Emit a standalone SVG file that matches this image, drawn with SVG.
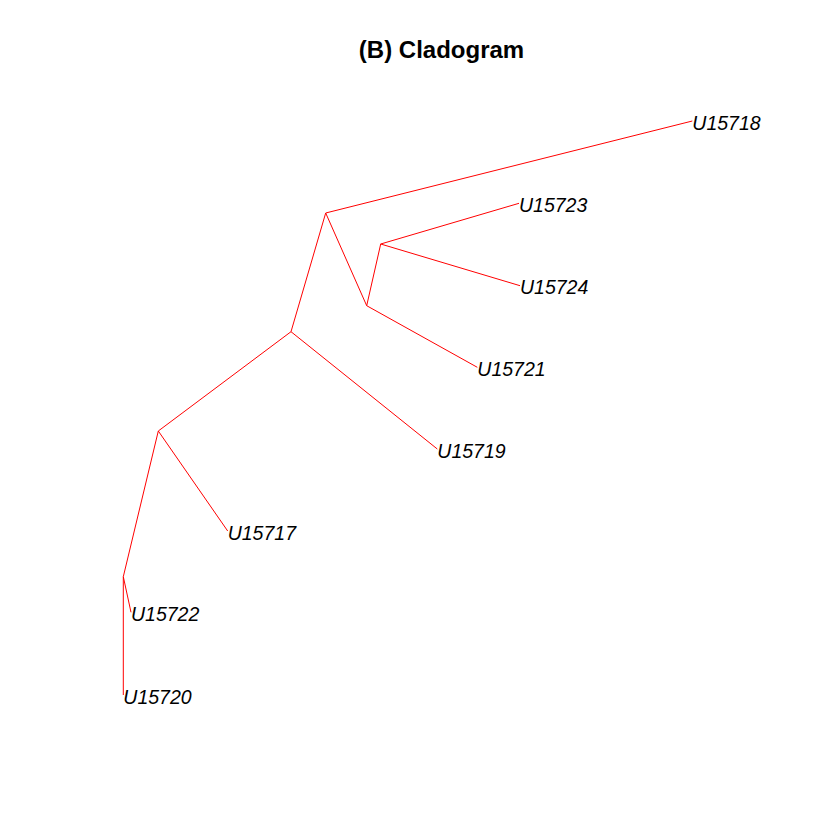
<svg xmlns="http://www.w3.org/2000/svg" width="840" height="840" viewBox="0 0 840 840">
<style>
.e{stroke:#ff0000;stroke-width:1;fill:none}
.l{font-family:"Liberation Sans",Arial,sans-serif;font-size:19.5px;font-style:italic;fill:#000}
.t{font-family:"Liberation Sans",Arial,sans-serif;font-size:24px;font-weight:bold;fill:#000}
</style>
<rect width="840" height="840" fill="#fff"/>
<text class="t" x="441.5" y="58" text-anchor="middle">(B) Cladogram</text>
<g id="connectors">
<line class="e" x1="291" y1="331.7" x2="158.3" y2="431"/>
<line class="e" x1="291" y1="331.7" x2="437.3" y2="449"/>
<line class="e" x1="291" y1="331.7" x2="325.7" y2="213"/>
<line class="e" x1="325.7" y1="213" x2="692.3" y2="121"/>
<line class="e" x1="325.7" y1="213" x2="366.7" y2="305.7"/>
<line class="e" x1="366.7" y1="305.7" x2="477.3" y2="367.3"/>
<line class="e" x1="366.7" y1="305.7" x2="380.7" y2="244"/>
<line class="e" x1="380.7" y1="244" x2="519" y2="203.3"/>
<line class="e" x1="380.7" y1="244" x2="520" y2="285.7"/>
<line class="e" x1="158.3" y1="431" x2="227.7" y2="531"/>
<line class="e" x1="158.3" y1="431" x2="123.3" y2="576.7"/>
<line class="e" x1="123.3" y1="576.7" x2="131" y2="612.3"/>
<line class="e" x1="123.3" y1="576.7" x2="123.3" y2="695"/>
</g>
<g id="U15718"><text class="l" x="692.3" y="129.5">U15718</text></g>
<g id="U15723"><text class="l" x="519" y="211.8">U15723</text></g>
<g id="U15724"><text class="l" x="520" y="294.2">U15724</text></g>
<g id="U15721"><text class="l" x="477.3" y="375.8">U15721</text></g>
<g id="U15719"><text class="l" x="437.3" y="457.5">U15719</text></g>
<g id="U15717"><text class="l" x="227.7" y="539.5">U15717</text></g>
<g id="U15722"><text class="l" x="131" y="620.8">U15722</text></g>
<g id="U15720"><text class="l" x="123.3" y="703.5">U15720</text></g>
</svg>
